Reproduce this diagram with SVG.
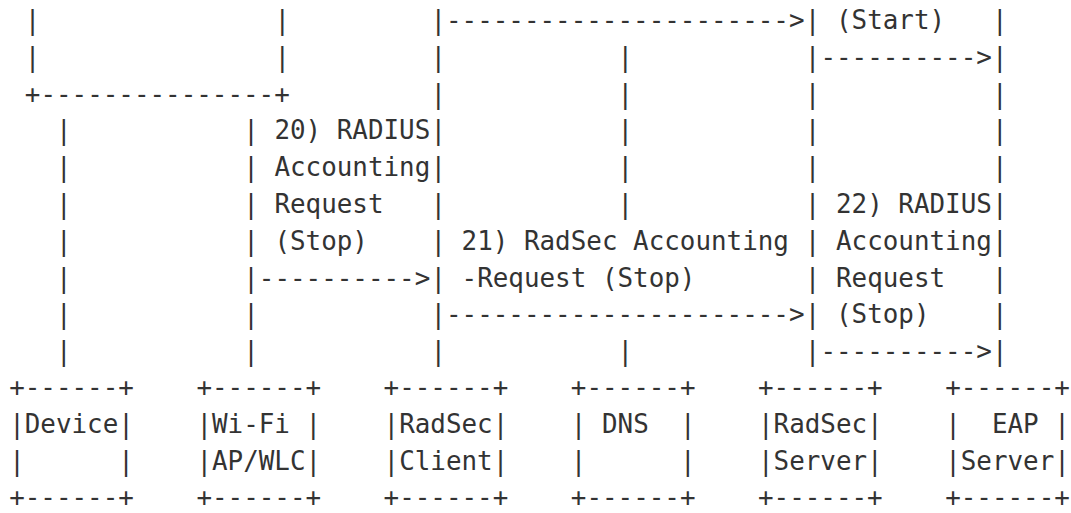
<svg xmlns="http://www.w3.org/2000/svg" width="1071" height="513" viewBox="0 0 1071 513" xml:space="preserve">
<style>
.t{font-family:"DejaVu Sans Mono","Liberation Mono",monospace;font-size:25.9px;fill:#333;white-space:pre}
</style>
<rect width="1071" height="513" fill="#fff"/>
<g id="upper-box" class="t">
<text class="t"><tspan x="24.8" y="29">|</tspan><tspan x="24.8" y="65.8">|</tspan><tspan x="24.8" y="102.6">+---------------+</tspan></text>
<text class="t"><tspan x="274.4" y="29">|</tspan><tspan x="274.4" y="65.8">|</tspan></text>
</g>
<g id="connectors">
<g id="lifelines">
<text class="t"><tspan x="56" y="139.4">|</tspan><tspan x="56" y="176.2">|</tspan><tspan x="56" y="213">|</tspan><tspan x="56" y="249.8">|</tspan><tspan x="56" y="286.6">|</tspan><tspan x="56" y="323.4">|</tspan><tspan x="56" y="360.2">|</tspan></text>
<text class="t"><tspan x="243.2" y="139.4">|</tspan><tspan x="243.2" y="176.2">|</tspan><tspan x="243.2" y="213">|</tspan><tspan x="243.2" y="249.8">|</tspan><tspan x="243.2" y="286.6">|</tspan><tspan x="243.2" y="323.4">|</tspan><tspan x="243.2" y="360.2">|</tspan></text>
<text class="t"><tspan x="430.4" y="29">|</tspan><tspan x="430.4" y="65.8">|</tspan><tspan x="430.4" y="102.6">|</tspan><tspan x="430.4" y="139.4">|</tspan><tspan x="430.4" y="176.2">|</tspan><tspan x="430.4" y="213">|</tspan><tspan x="430.4" y="249.8">|</tspan><tspan x="430.4" y="286.6">|</tspan><tspan x="430.4" y="323.4">|</tspan><tspan x="430.4" y="360.2">|</tspan></text>
<text class="t"><tspan x="617.6" y="65.8">|</tspan><tspan x="617.6" y="102.6">|</tspan><tspan x="617.6" y="139.4">|</tspan><tspan x="617.6" y="176.2">|</tspan><tspan x="617.6" y="213">|</tspan><tspan x="617.6" y="360.2">|</tspan></text>
<text class="t"><tspan x="804.8" y="29">|</tspan><tspan x="804.8" y="65.8">|</tspan><tspan x="804.8" y="102.6">|</tspan><tspan x="804.8" y="139.4">|</tspan><tspan x="804.8" y="176.2">|</tspan><tspan x="804.8" y="213">|</tspan><tspan x="804.8" y="249.8">|</tspan><tspan x="804.8" y="286.6">|</tspan><tspan x="804.8" y="323.4">|</tspan><tspan x="804.8" y="360.2">|</tspan></text>
<text class="t"><tspan x="992" y="29">|</tspan><tspan x="992" y="65.8">|</tspan><tspan x="992" y="102.6">|</tspan><tspan x="992" y="139.4">|</tspan><tspan x="992" y="176.2">|</tspan><tspan x="992" y="213">|</tspan><tspan x="992" y="249.8">|</tspan><tspan x="992" y="286.6">|</tspan><tspan x="992" y="323.4">|</tspan><tspan x="992" y="360.2">|</tspan></text>
</g>
<g id="arrows">
<text class="t" x="446" y="29">----------------------&gt;</text>
<text class="t" x="820.4" y="65.8">----------&gt;</text>
<text class="t" x="258.8" y="286.6">----------&gt;</text>
<text class="t" x="446" y="323.4">----------------------&gt;</text>
<text class="t" x="820.4" y="360.2">----------&gt;</text>
</g>
</g>
<g id="labels">
<text class="t" x="836" y="29">(Start)</text>
<text class="t"><tspan x="274.4" y="139.4">20) RADIUS</tspan><tspan x="274.4" y="176.2">Accounting</tspan><tspan x="274.4" y="213">Request</tspan><tspan x="274.4" y="249.8">(Stop)</tspan></text>
<text class="t"><tspan x="461.6" y="249.8">21) RadSec Accounting</tspan><tspan x="461.6" y="286.6">-Request (Stop)</tspan></text>
<text class="t"><tspan x="836" y="213">22) RADIUS</tspan><tspan x="836" y="249.8">Accounting</tspan><tspan x="836" y="286.6">Request</tspan><tspan x="836" y="323.4">(Stop)</tspan></text>
</g>
<g id="device">
<text class="t"><tspan x="9.2" y="396">+------+</tspan><tspan x="9.2" y="432.8">|Device|</tspan><tspan x="9.2" y="469.6">|      |</tspan><tspan x="9.2" y="505.8">+------+</tspan></text>
</g>
<g id="wifi-ap">
<text class="t"><tspan x="196.4" y="396">+------+</tspan><tspan x="196.4" y="432.8">|Wi-Fi |</tspan><tspan x="196.4" y="469.6">|AP/WLC|</tspan><tspan x="196.4" y="505.8">+------+</tspan></text>
</g>
<g id="radsec-client">
<text class="t"><tspan x="383.6" y="396">+------+</tspan><tspan x="383.6" y="432.8">|RadSec|</tspan><tspan x="383.6" y="469.6">|Client|</tspan><tspan x="383.6" y="505.8">+------+</tspan></text>
</g>
<g id="dns">
<text class="t"><tspan x="570.8" y="396">+------+</tspan><tspan x="570.8" y="432.8">| DNS  |</tspan><tspan x="570.8" y="469.6">|      |</tspan><tspan x="570.8" y="505.8">+------+</tspan></text>
</g>
<g id="radsec-server">
<text class="t"><tspan x="758" y="396">+------+</tspan><tspan x="758" y="432.8">|RadSec|</tspan><tspan x="758" y="469.6">|Server|</tspan><tspan x="758" y="505.8">+------+</tspan></text>
</g>
<g id="eap-server">
<text class="t"><tspan x="945.2" y="396">+------+</tspan><tspan x="945.2" y="432.8">|  EAP |</tspan><tspan x="945.2" y="469.6">|Server|</tspan><tspan x="945.2" y="505.8">+------+</tspan></text>
</g>
</svg>
